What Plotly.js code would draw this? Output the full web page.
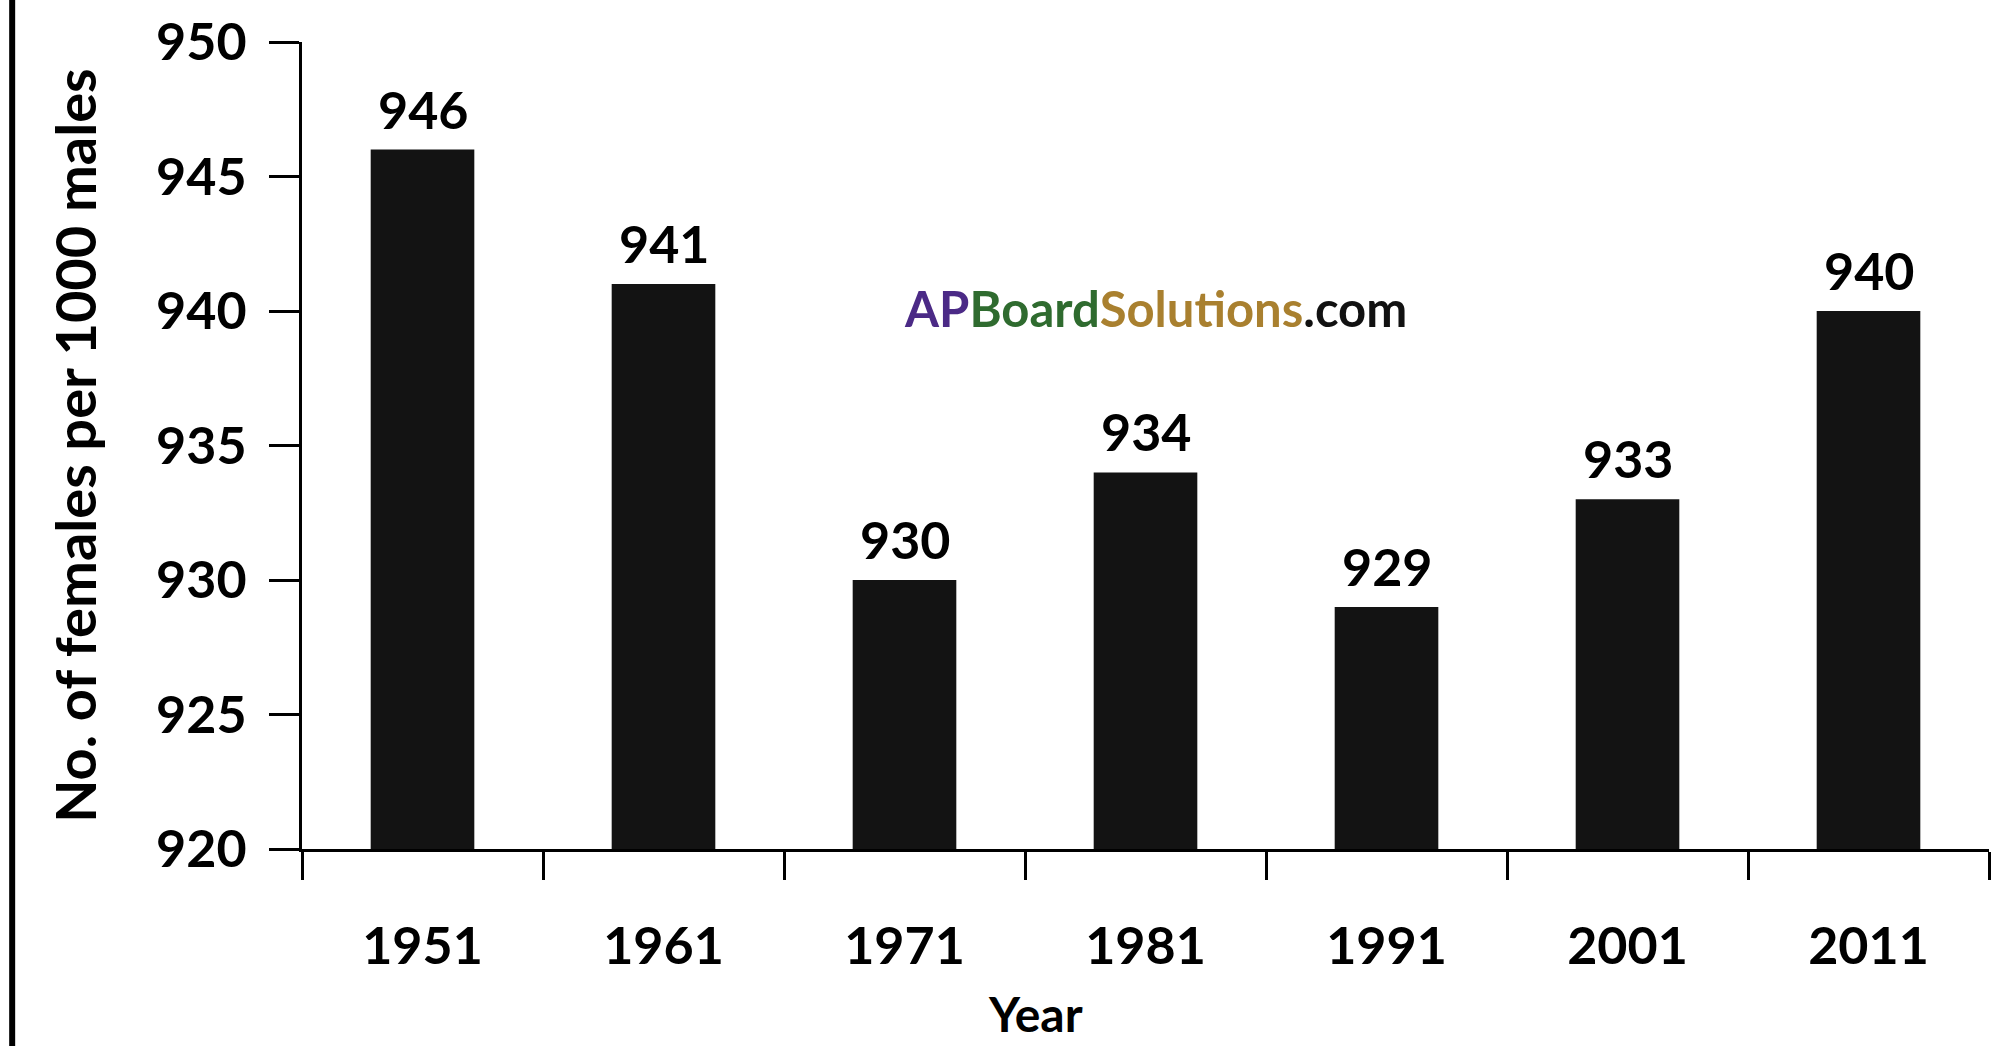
<!DOCTYPE html>
<html>
<head>
<meta charset="utf-8">
<script src="https://cdn.plot.ly/plotly-3.0.1.min.js"></script>
<style>html,body{margin:0;padding:0;background:#fff;}#chart{width:1992px;height:1046px;}</style>
</head>
<body>
<div id="chart"></div>
<script>
const years = ["1951", "1961", "1971", "1981", "1991", "2001", "2011"];
const sexRatio = [946, 941, 930, 934, 929, 933, 940];
const yTickValues = [920, 925, 930, 935, 940, 945, 950];
const yAxisTitle = "No. of females per 1000 males";
const xAxisTitle = "Year";

const FONT = "Lato, 'Open Sans', 'DejaVu Sans', sans-serif";

const trace = {
  type: "bar",
  x: years,
  y: sexRatio,
  marker: { color: "#131313", line: { width: 0 } },
  hoverinfo: "x+y",
  showlegend: false
};

// category axis: annotation x given as category index
const valueLabels = years.map((yr, i) => ({
  x: i, y: sexRatio[i], xref: "x", yref: "y",
  text: "<b>" + sexRatio[i] + "</b>",
  showarrow: false, yanchor: "bottom", yshift: 8,
  font: { family: FONT, size: 52, color: "#000" }
}));

const layout = {
  width: 1992, height: 1046,
  margin: { l: 302, r: 3, t: 42, b: 197, autoexpand: false },
  paper_bgcolor: "#fff", plot_bgcolor: "#fff",
  bargap: 0.57,
  font: { family: FONT, color: "#000" },
  xaxis: {
    type: "category",
    range: [-0.5, 6.5],
    showline: true, linecolor: "#000", linewidth: 3,
    ticks: "outside", tickson: "boundaries", ticklen: 28, tickwidth: 3, tickcolor: "#000",
    tickfont: { family: FONT, size: 52, color: "#000", weight: "bold" },
    ticklabelstandoff: 50,
    showgrid: false, zeroline: false, fixedrange: true
  },
  yaxis: {
    range: [920, 950],
    tickvals: yTickValues,
    ticktext: yTickValues.map(String),
    showline: true, linecolor: "#000", linewidth: 3,
    ticks: "outside", ticklen: 30, tickwidth: 3, tickcolor: "#000",
    tickfont: { family: FONT, size: 52, color: "#000", weight: "bold" },
    ticklabelstandoff: 12,
    title: { text: "<b>" + yAxisTitle + "</b>", font: { family: FONT, size: 56, color: "#000" }, standoff: 42 },
    showgrid: false, zeroline: false, fixedrange: true
  },
  annotations: valueLabels.concat([
    {
      xref: "paper", yref: "paper", x: 0.435, y: -0.242, xanchor: "center", yanchor: "bottom",
      text: "<b>" + xAxisTitle + "</b>", showarrow: false,
      font: { family: FONT, size: 48, color: "#000" }
    },
    {
      xref: "paper", yref: "paper", x: 0.506, y: 0.671, xanchor: "center", yanchor: "middle",
      text: "<b><span style='color:#4b2a86'>AP</span><span style='color:#2f6b2f'>Board</span><span style='color:#a9802f'>Solutions</span><span style='color:#111'>.com</span></b>",
      showarrow: false,
      font: { family: FONT, size: 49, color: "#111" }
    }
  ]),
  shapes: [
    {
      type: "line", xref: "paper", yref: "paper",
      x0: -0.1718, x1: -0.1718, y0: 1.06, y1: -0.25,
      line: { color: "#000", width: 6 }
    }
  ]
};

Plotly.newPlot("chart", [trace], layout, { displayModeBar: false, staticPlot: true });
</script>
</body>
</html>
